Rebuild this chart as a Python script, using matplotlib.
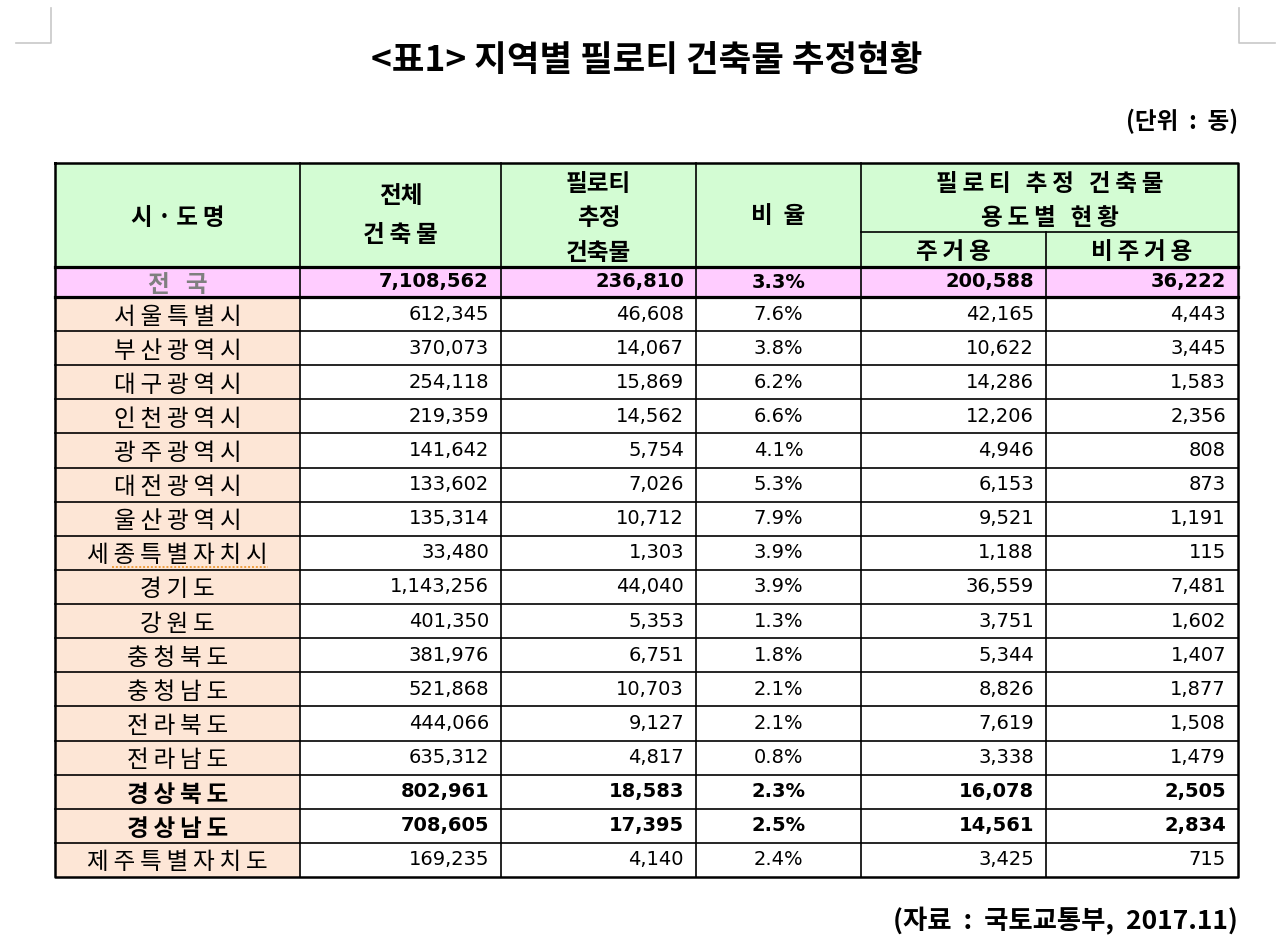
import matplotlib
matplotlib.use('Agg')
import matplotlib.pyplot as plt
from matplotlib.patches import Rectangle

# data
regions = ['서울특별시', '부산광역시', '대구광역시', '인천광역시', '광주광역시', '대전광역시',
           '울산광역시', '세종특별자치시', '경기도', '강원도', '충청북도', '충청남도',
           '전라북도', '전라남도', '경상북도', '경상남도', '제주특별자치도']
total = [612345, 370073, 254118, 219359, 141642, 133602, 135314, 33480, 1143256,
         401350, 381976, 521868, 444066, 635312, 802961, 708605, 169235]
piloti = [46608, 14067, 15869, 14562, 5754, 7026, 10712, 1303, 44040,
          5353, 6751, 10703, 9127, 4817, 18583, 17395, 4140]
ratio = [7.6, 3.8, 6.2, 6.6, 4.1, 5.3, 7.9, 3.9, 3.9, 1.3, 1.8, 2.1, 2.1, 0.8, 2.3, 2.5, 2.4]
residential = [42165, 10622, 14286, 12206, 4946, 6153, 9521, 1188, 36559,
               3751, 5344, 8826, 7619, 3338, 16078, 14561, 3425]
non_residential = [4443, 3445, 1583, 2356, 808, 873, 1191, 115, 7481,
                   1602, 1407, 1877, 1508, 1479, 2505, 2834, 715]
bold_regions = ['경상북도', '경상남도']

national_label = '전   국'
national = [7108562, 236810, 3.3, 200588, 36222]

title = '<표1> 지역별 필로티 건축물 추정현황'
unit_note = '(단위  :  동)'
source_note = '(자료  :  국토교통부,  2017.11)'

KR = ['Noto Sans CJK KR', 'DejaVu Sans']
NUM = 'DejaVu Sans'

GREEN = '#d3fcd3'
PINK = '#ffccff'
PEACH = '#fde6d6'

fig = plt.figure(figsize=(12.79, 9.48), dpi=100)
ax = fig.add_axes([0, 0, 1, 1])
ax.set_xlim(0, 1279)
ax.set_ylim(948, 0)
ax.axis('off')

# layout
cols = [55, 300, 501, 696, 861, 1046, 1238]
h_top, h_mid, h_bot = 163, 232, 267
nat_bot = 297
row_h = (877 - nat_bot) / len(regions)
row_edges = [nat_bot + i * row_h for i in range(len(regions) + 1)]
dy = 3  # the CJK font sits a little high with va='center'


def spaced(s):
    return '\u2009'.join(s)


# page corner marks
ax.plot([16, 51, 51], [43, 43, 8], color='#c8c8c8', lw=1.2)
ax.plot([1275, 1239, 1239], [43, 43, 8], color='#c8c8c8', lw=1.2)

# titles
ax.text(647, 57 + dy, title, ha='center', va='center', fontsize=25.5, fontweight='bold', family=KR)
ax.text(1238, 118 + dy, unit_note, ha='right', va='center', fontsize=17, fontweight='bold', family=KR)
ax.text(1238, 918 + dy, source_note, ha='right', va='center', fontsize=19, fontweight='bold', family=KR)

# fills
ax.add_patch(Rectangle((cols[0], h_top), cols[-1] - cols[0], h_bot - h_top, color=GREEN, lw=0))
ax.add_patch(Rectangle((cols[0], h_bot), cols[-1] - cols[0], nat_bot - h_bot, color=PINK, lw=0))
ax.add_patch(Rectangle((cols[0], nat_bot), cols[1] - cols[0], row_edges[-1] - nat_bot, color=PEACH, lw=0))

# grid lines
lw_in, lw_out = 1.2, 1.8
for y in row_edges[1:-1]:
    ax.plot([cols[0], cols[-1]], [y, y], color='black', lw=lw_in)
ax.plot([cols[4], cols[-1]], [h_mid, h_mid], color='black', lw=lw_in)
for y in [h_bot, nat_bot]:
    ax.plot([cols[0], cols[-1]], [y, y], color='black', lw=2.3)
for x in cols[1:5]:
    ax.plot([x, x], [h_top, row_edges[-1]], color='black', lw=lw_in)
ax.plot([cols[5], cols[5]], [h_mid, row_edges[-1]], color='black', lw=lw_in)
ax.plot([cols[0], cols[-1], cols[-1], cols[0], cols[0]],
        [h_top, h_top, row_edges[-1], row_edges[-1], h_top], color='black', lw=lw_out)

# header text
hs = dict(ha='center', va='center', fontsize=17, fontweight='bold', family=KR)
c = [(cols[i] + cols[i + 1]) / 2 for i in range(len(cols) - 1)]
ax.text(c[0], 215 + dy, spaced('시·도명'), **hs)
ax.text(c[1], 193 + dy, '전체', **hs)
ax.text(c[1], 232 + dy, spaced('건축물'), **hs)
ax.text(c[2], 181 + dy, '필로티', **hs)
ax.text(c[2], 215 + dy, '추정', **hs)
ax.text(c[2], 250 + dy, '건축물', **hs)
ax.text(c[3], 213 + dy, '비  율', **hs)
ax.text((cols[4] + cols[6]) / 2, 181 + dy, spaced('필로티 추정 건축물'), **hs)
ax.text((cols[4] + cols[6]) / 2, 215 + dy, spaced('용도별 현황'), **hs)
ax.text(c[4], 249 + dy, spaced('주거용'), **hs)
ax.text(c[5], 249 + dy, spaced('비주거용'), **hs)

pad = 12


def draw_row(yc, values, weight):
    ax.text(cols[2] - pad, yc, f'{values[0]:,}', ha='right', va='center', fontsize=14, fontweight=weight, family=NUM)
    ax.text(cols[3] - pad, yc, f'{values[1]:,}', ha='right', va='center', fontsize=14, fontweight=weight, family=NUM)
    ax.text(c[3], yc, f'{values[2]:.1f}%', ha='center', va='center', fontsize=14, fontweight=weight, family=NUM)
    ax.text(cols[5] - pad, yc, f'{values[3]:,}', ha='right', va='center', fontsize=14, fontweight=weight, family=NUM)
    ax.text(cols[6] - pad, yc, f'{values[4]:,}', ha='right', va='center', fontsize=14, fontweight=weight, family=NUM)


# national row
yc = (h_bot + nat_bot) / 2
ax.text(c[0], yc + dy, national_label, ha='center', va='center', fontsize=17, fontweight='bold',
        color='#7f7f7f', family=KR)
draw_row(yc, national, 'bold')

# regions
for i, name in enumerate(regions):
    yc = (row_edges[i] + row_edges[i + 1]) / 2
    weight = 'bold' if name in bold_regions else 'normal'
    ax.text(c[0], yc + dy, spaced(name), ha='center', va='center', fontsize=17, fontweight=weight, family=KR)
    draw_row(yc, [total[i], piloti[i], ratio[i], residential[i], non_residential[i]], weight)
    if name == '세종특별자치시':
        ax.plot([112, 268], [row_edges[i + 1] - 3, row_edges[i + 1] - 3], color='#f0a040', lw=1.4, ls=(0, (1, 1)))

fig.savefig('out.png', dpi=100)
